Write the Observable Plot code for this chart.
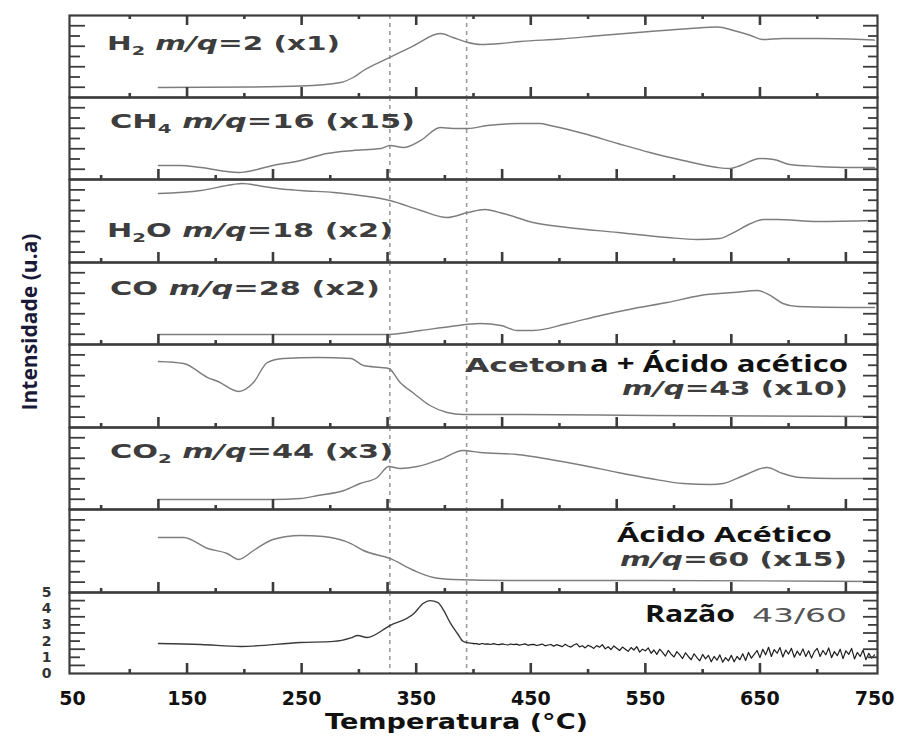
<!DOCTYPE html>
<html><head><meta charset="utf-8">
<script src="https://cdn.jsdelivr.net/npm/d3@7"></script>
<script src="https://cdn.jsdelivr.net/npm/@observablehq/plot@0.6"></script>
<style>
body{margin:0;background:#fff;}
#chart{position:relative;width:899px;height:738px;overflow:hidden;background:#fff;}
#chart svg{position:absolute;left:0;}
</style></head><body><div id="chart"></div>
<script>
// ---- Data (temperature °C, intensity in arbitrary units) ----
const h2T = [125,205,249,284,295,304,327,348,371,382,395,406,424,441,476,511,554,589,613,627,642,652,670,700,739,750];
const h2V = [1.22,1.28,1.40,1.83,2.44,3.29,4.88,6.34,7.80,7.32,6.71,6.46,6.59,6.83,7.13,7.56,8.05,8.41,8.60,8.17,7.56,7.07,7.20,7.20,7.07,7.00];

const ch4T = [125,144,162,195,225,249,272,295,319,327,339,354,371,382,395,412,441,458,467,496,526,554,583,613,624,633,650,662,676,700,729,750];
const ch4V = [1.71,1.71,1.46,0.85,1.71,2.32,3.17,3.54,3.78,4.15,3.90,4.76,6.34,6.22,6.22,6.59,6.83,6.83,6.59,5.61,4.39,3.29,2.32,1.46,1.34,1.71,2.56,2.44,1.83,1.59,1.46,1.46];

const h2oT = [125,162,190,198,214,229,249,278,301,319,327,354,377,395,410,426,452,482,526,569,595,615,627,642,653,665,700,750];
const h2oV = [8.31,8.67,9.40,9.52,9.22,8.92,8.67,8.43,8.07,7.71,7.47,6.27,5.42,6.02,6.39,5.90,4.82,4.22,3.61,3.01,2.77,2.89,3.61,4.70,5.18,5.18,4.94,5.06];

const coT = [125,326,354,380,406,424,438,452,482,511,540,569,598,627,648,659,670,683,729,750];
const coV = [1.22,1.22,1.71,2.20,2.56,2.32,1.71,1.71,2.56,3.54,4.39,5.12,5.98,6.34,6.59,5.98,5.00,4.63,4.51,4.51];

const m43T = [125,147,168,177,195,208,220,234,264,293,304,319,326,336,348,362,377,391,441,554,750];
const m43V = [7.95,7.71,6.02,5.54,4.34,5.42,7.83,8.31,8.43,8.31,7.47,7.23,7.11,5.42,4.10,2.65,1.81,1.57,1.57,1.45,1.33];

const co2T = [125,225,249,264,287,301,316,326,336,351,371,391,406,438,467,496,526,554,583,607,618,636,656,670,685,714,750];
const co2V = [1.22,1.22,1.34,1.71,2.32,3.17,3.90,5.24,5.00,5.24,6.10,7.20,6.95,6.71,6.10,5.37,4.51,3.78,3.17,3.05,3.17,4.15,5.12,4.39,3.90,3.78,3.78];

const m60T = [125,147,168,185,195,208,225,249,269,293,304,327,348,365,382,441,554,750];
const m60V = [6.63,6.63,5.30,4.70,3.98,5.06,6.39,6.87,6.75,5.90,5.06,4.10,2.65,1.81,1.57,1.45,1.45,1.33];

// ratio 43/60: smooth part up to 400 °C, then noisy trace
const ratioT = [125,162,197,249,278,293,299,307,327,348,356,362,369,374,380,386,391,400,
  402.5,405,407.5,410,412.5,415,417.5,420,422.5,425,
  427.5,430,432.5,435,437.5,440,442.5,445,447.5,450,
  452.5,455,457.5,460,462.5,465,467.5,470,472.5,475,
  477.5,480,482.5,485,487.5,490,492.5,495,497.5,500,
  502.5,505,507.5,510,512.5,515,517.5,520,522.5,525,
  527.5,530,532.5,535,537.5,540,542.5,545,547.5,550,
  552.5,555,557.5,560,562.5,565,567.5,570,572.5,575,
  577.5,580,582.5,585,587.5,590,592.5,595,597.5,600,
  602.5,605,607.5,610,612.5,615,617.5,620,622.5,625,
  627.5,630,632.5,635,637.5,640,642.5,645,647.5,650,
  652.5,655,657.5,660,662.5,665,667.5,670,672.5,675,
  677.5,680,682.5,685,687.5,690,692.5,695,697.5,700,
  702.5,705,707.5,710,712.5,715,717.5,720,722.5,725,
  727.5,730,732.5,735,737.5,740,742.5,745,747.5,750];
const ratioV = [1.85,1.79,1.67,1.91,1.98,2.20,2.35,2.22,2.96,3.70,4.32,4.50,4.38,3.89,3.09,2.47,1.98,1.85,
  1.84,1.80,1.85,1.81,1.83,1.79,1.84,1.80,1.78,1.83,
  1.79,1.76,1.82,1.78,1.81,1.75,1.79,1.83,1.74,1.78,
  1.80,1.73,1.77,1.82,1.71,1.76,1.79,1.69,1.78,1.72,
  1.66,1.80,1.70,1.63,1.76,1.84,1.64,1.71,1.58,1.74,
  1.66,1.55,1.72,1.62,1.78,1.52,1.65,1.48,1.70,1.56,
  1.42,1.63,1.50,1.37,1.60,1.45,1.66,1.32,1.50,1.40,
  1.58,1.25,1.45,1.18,1.50,1.30,1.08,1.42,1.20,1.02,
  1.35,1.15,0.92,1.28,1.05,0.85,1.22,0.98,0.78,1.18,
  0.90,1.12,0.72,1.05,0.82,1.15,0.70,0.98,0.78,1.12,
  0.72,1.05,0.85,1.22,0.80,1.30,0.95,1.18,1.42,0.98,
  1.50,1.15,1.62,1.05,1.48,1.25,1.60,1.02,1.45,1.20,
  1.55,1.00,1.38,1.12,1.52,1.05,1.40,0.95,1.35,1.55,
  1.05,1.42,1.15,1.58,0.98,1.35,1.10,1.50,0.92,1.40,
  1.18,1.55,0.90,1.30,1.05,1.45,0.85,1.25,0.95,1.15];

const xTickLabels = [50,150,250,350,450,550,650,750];
const ratioTickLabels = [0,1,2,3,4,5];
const dashedT = [327,394];
const ticksMajorA = [150,250,350,450,550,650];
const ticksMinorA = [100,200,300,400,500,600,700];
const ticksMajorB = [125,225,325,425,525,625,725];
const ticksMinorB = [75,175,275,375,475,575,675];
const yTicks = [1.25,2.5,3.75,5,6.25,7.5,8.75];
const ratioYTicks = [0.5,1,1.5,2,2.5,3,3.5,4,4.5];

// ---- Layout ----
const xDomain = [47.4, 752.6];
const pxPerX = (877 - 69) / (xDomain[1] - xDomain[0]);
const panels = [
  {T:h2T,  V:h2V,  top:15,  bottom:97,  ticks:"A", topTicks:true},
  {T:ch4T, V:ch4V, top:97,  bottom:179, ticks:"B"},
  {T:h2oT, V:h2oV, top:179, bottom:262, ticks:"B"},
  {T:coT,  V:coV,  top:262, bottom:344, ticks:"B"},
  {T:m43T, V:m43V, top:344, bottom:427, ticks:"B"},
  {T:co2T, V:co2V, top:427, bottom:509, ticks:"B"},
  {T:m60T, V:m60V, top:509, bottom:592, ticks:"B"},
  {T:ratioT, V:ratioV, top:592, bottom:673, ticks:"A", ratio:true}
];
const pad = 3;
const chart = document.getElementById("chart");
const frameColor = "#3c3c3c";

panels.forEach((p, i) => {
  const h = p.bottom - p.top;
  const yDom = p.ratio ? [0, 5] : [0, 10];
  const u = (yDom[1] - yDom[0]) / h; // data units per px
  const data = p.T.map((t, j) => ({T: t, V: p.V[j]}));
  const maj = p.ticks === "A" ? ticksMajorA : ticksMajorB;
  const min = p.ticks === "A" ? ticksMinorA : ticksMinorB;
  const yt = p.ratio ? ratioYTicks : yTicks;
  const lineMarks = p.ratio
    ? [
        Plot.line(data.filter(d => d.T <= 400), {x: "T", y: "V", stroke: "#3a3a3a", strokeWidth: 1.4, curve: "monotone-x"}),
        Plot.line(data.filter(d => d.T >= 400), {x: "T", y: "V", stroke: "#1e1e1e", strokeWidth: 1.2, curve: "linear"})
      ]
    : [Plot.line(data, {x: "T", y: "V", stroke: "#7d7d7d", strokeWidth: 1.4, curve: "monotone-x"})];
  const marks = [
    Plot.ruleX(dashedT, {x: d => d, stroke: "#9c9c9c", strokeWidth: 1.6, strokeDasharray: "4,4"}),
    ...lineMarks,
    Plot.ruleX(maj, {x: d => d, y1: yDom[0], y2: yDom[0] + 10 * u, stroke: frameColor, strokeWidth: 2.6}),
    Plot.ruleX(min, {x: d => d, y1: yDom[0], y2: yDom[0] + 4 * u, stroke: frameColor, strokeWidth: 2.6}),
    Plot.ruleY(yt, {y: d => d, x1: xDomain[0], x2: (d, k) => xDomain[0] + ((k % 2 === 0) ? 16 : 11) / pxPerX, stroke: frameColor, strokeWidth: 1.8}),
    Plot.ruleY(yt, {y: d => d, x1: xDomain[1], x2: (d, k) => xDomain[1] - ((k % 2 === 0) ? 14 : 9) / pxPerX, stroke: frameColor, strokeWidth: 1.8}),
    Plot.frame({stroke: frameColor, strokeWidth: 2.2})
  ];
  if (p.topTicks) {
    marks.push(Plot.ruleX(maj, {x: d => d, y1: yDom[1], y2: yDom[1] - 10 * u, stroke: frameColor, strokeWidth: 2.6}));
    marks.push(Plot.ruleX(min, {x: d => d, y1: yDom[1], y2: yDom[1] - 4 * u, stroke: frameColor, strokeWidth: 2.6}));
  }
  const last = !!p.ratio;
  if (last) {
    marks.push(Plot.axisX(xTickLabels, {tickSize: 0, tickPadding: 18, fontSize: 19, fontWeight: "bold",
      fontFamily: "DejaVu Sans", fill: "#111", label: null}));
    marks.push(Plot.axisY(ratioTickLabels, {tickSize: 0, tickPadding: 18, fontSize: 14, fontWeight: "bold",
      fontFamily: "DejaVu Sans", fill: "#333", label: null}));
  }
  const svg = Plot.plot({
    width: 899,
    height: h + pad + (last ? 62 : pad),
    marginTop: pad,
    marginBottom: last ? 62 : pad,
    marginLeft: 69,
    marginRight: 22,
    x: last ? {domain: xDomain} : {domain: xDomain, axis: null},
    y: last ? {domain: yDom} : {domain: yDom, axis: null},
    style: {background: "transparent", overflow: "visible", fontFamily: "DejaVu Sans", fontWeight: "bold", color: "#111"},
    marks
  });
  svg.style.top = (p.top - pad) + "px";
  chart.appendChild(svg);
});

// ---- Text overlay ----
const ov = d3.select(chart).append("svg")
  .attr("width", 899).attr("height", 738)
  .style("top", "0px").style("pointer-events", "none");

const GRAY = "#3d3d3d";
function label({x, y, anchor = "start", width, family = "DejaVu Sans", size = 20, weight = "bold", fill = GRAY, parts, transform}) {
  const t = ov.append("text")
    .attr("x", x).attr("y", y)
    .attr("text-anchor", anchor)
    .attr("font-family", family)
    .attr("font-size", size)
    .attr("font-weight", weight)
    .attr("fill", fill);
  if (transform) t.attr("transform", transform);
  parts.forEach(pt => {
    const s = t.append("tspan").text(pt.text);
    if (pt.italic) s.attr("font-style", "italic");
    if (pt.size) s.attr("font-size", pt.size);
    if (pt.dy) s.attr("dy", pt.dy);
    if (pt.weight) s.attr("font-weight", pt.weight);
  });
  if (width) t.attr("textLength", width).attr("lengthAdjust", "spacingAndGlyphs");
  return t;
}
const sp = (formula, sub, rest, mq) => [
  {text: formula},
  {text: sub, size: 13, dy: 5},
  {text: rest + " ", dy: -5},
  {text: "m/q", italic: true},
  {text: mq}
];

label({x: 107, y: 50, width: 233, parts: sp("H", "2", "", "=2 (x1)")});
label({x: 110, y: 128, width: 305, parts: sp("CH", "4", "", "=16 (x15)")});
label({x: 107, y: 237, width: 286, parts: sp("H", "2", "O", "=18 (x2)")});
label({x: 110, y: 295, width: 270, parts: [{text: "CO "}, {text: "m/q", italic: true}, {text: "=28 (x2)"}]});
label({x: 465, y: 372, width: 123, parts: [{text: "Aceton"}]});
label({x: 590, y: 372, width: 258, family: "Open Sans", size: 23, fill: "#111", parts: [{text: "a + Ácido acético"}]});
label({x: 622, y: 395, width: 226, size: 19, parts: [{text: "m/q", italic: true}, {text: "=43 (x10)"}]});
label({x: 110, y: 458, width: 283, parts: sp("CO", "2", "", "=44 (x3)")});
label({x: 617, y: 542, width: 215, family: "Open Sans", size: 22, fill: "#111", parts: [{text: "Ácido Acético"}]});
label({x: 620, y: 566, width: 227, size: 19, parts: [{text: "m/q", italic: true}, {text: "=60 (x15)"}]});
label({x: 645, y: 622, width: 90, family: "Open Sans", size: 23, fill: "#111", parts: [{text: "Razão"}]});
label({x: 752, y: 622, width: 95, size: 20, weight: "normal", fill: "#555", parts: [{text: "43/60"}]});

// axis titles
label({x: 325, y: 729, width: 263, size: 21, fill: "#111", parts: [{text: "Temperatura (°C)"}]});
label({x: 0, y: 0, anchor: "middle", width: 177, family: "Open Sans", size: 21, fill: "#1a1a38",
  transform: "translate(37,322) rotate(-90)", parts: [{text: "Intensidade (u.a)"}]});
</script></body></html>
